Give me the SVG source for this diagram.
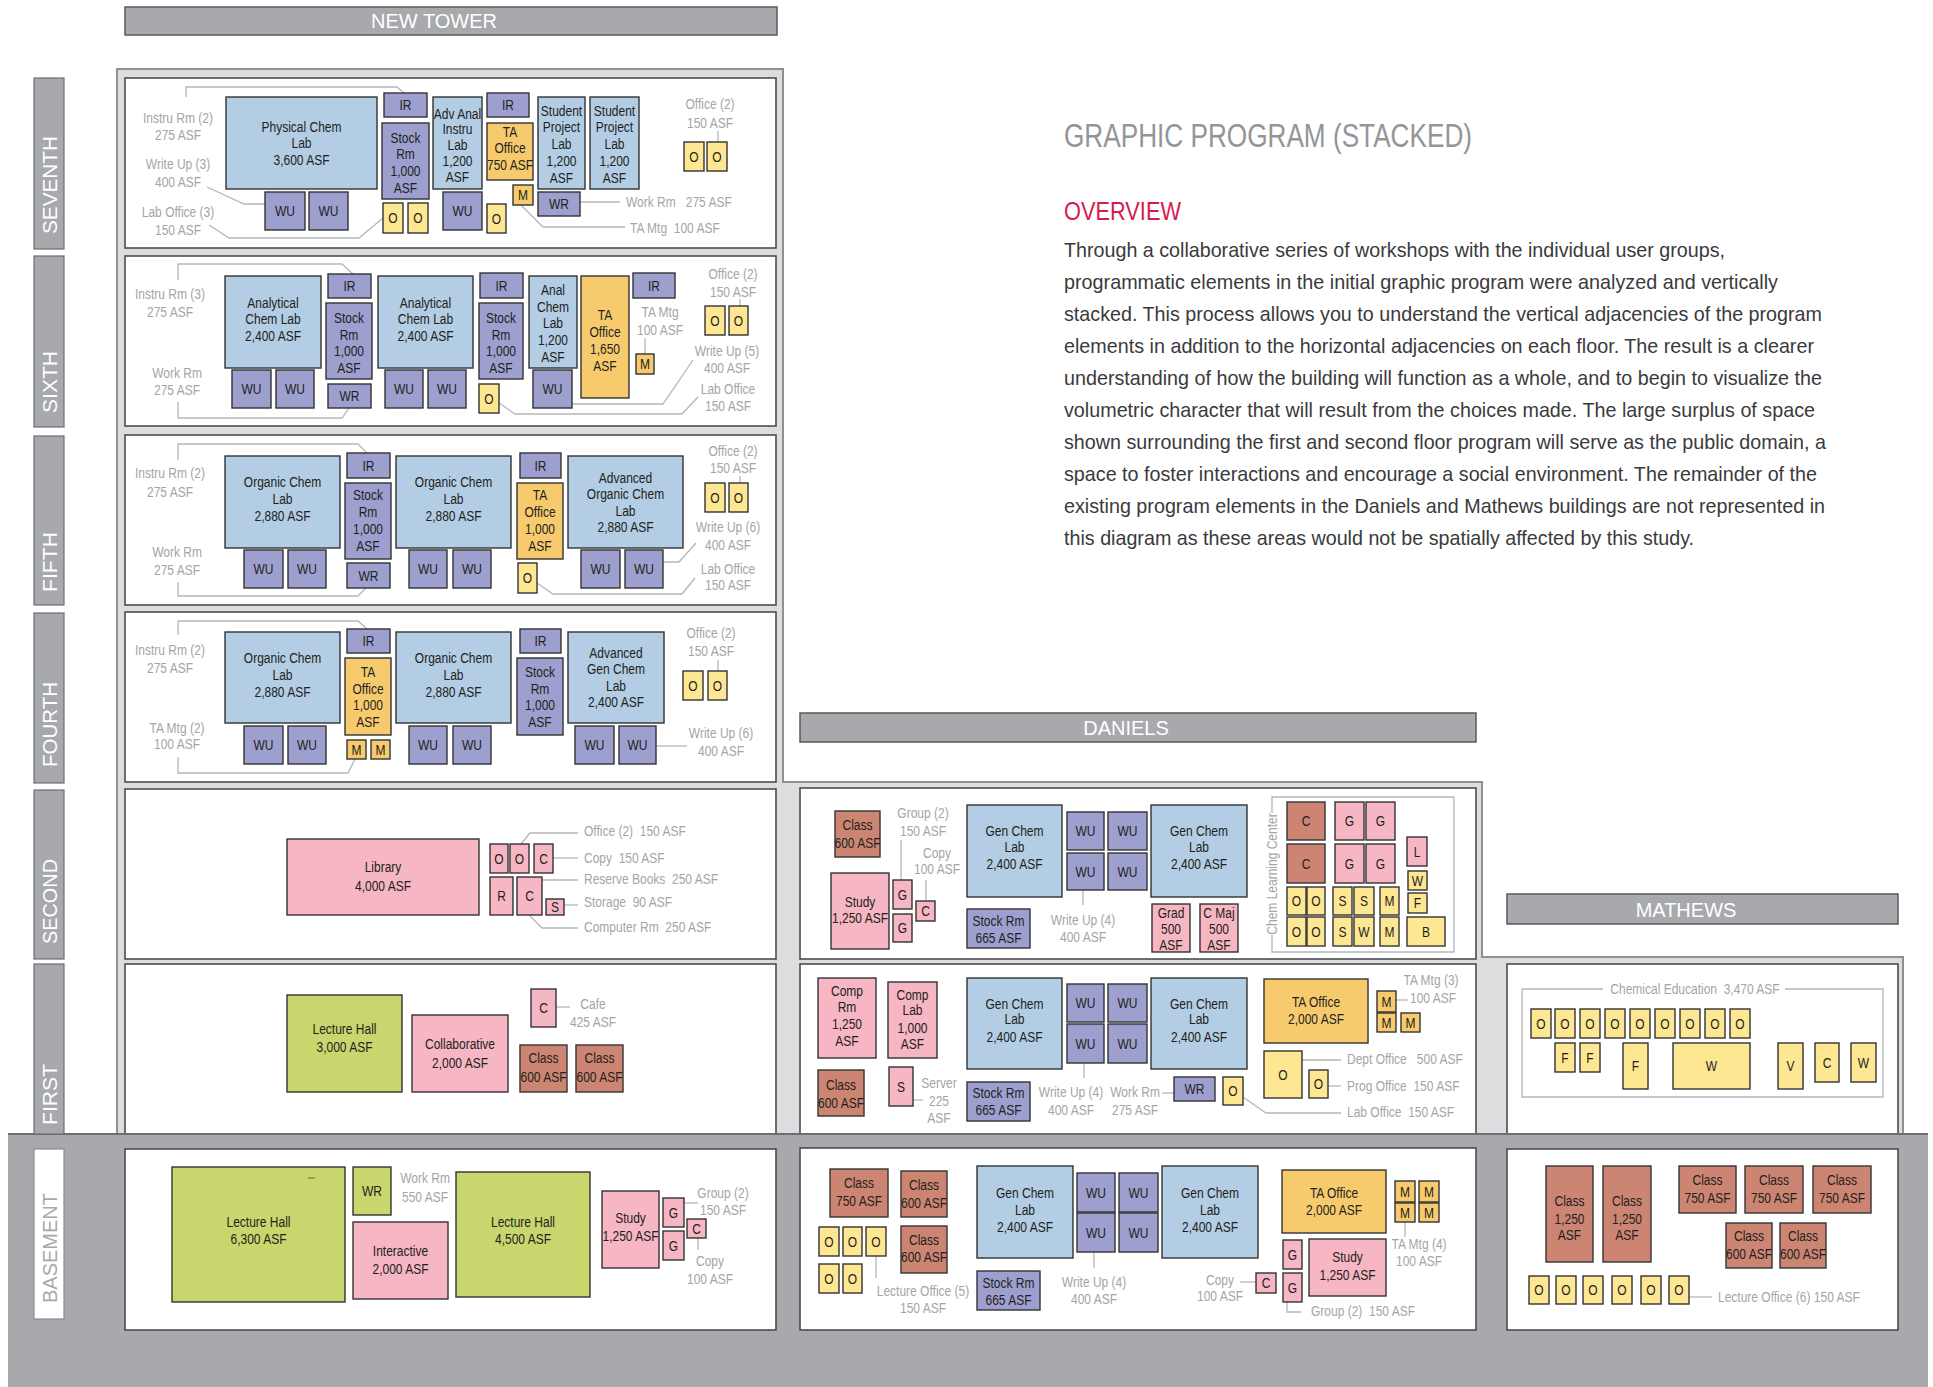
<svg xmlns="http://www.w3.org/2000/svg" width="1933" height="1387" viewBox="0 0 1933 1387">
<style>
.frame{fill:#dcddde;stroke:#8e9093;stroke-width:2}
.floor{fill:#fff;stroke:#4d4d4f;stroke-width:1.6}
.band{fill:#a7a9ac}
.hdr{fill:#a7a9ac;stroke:#58595b;stroke-width:1.5}
.hdrt{font-family:"Liberation Sans",Arial,sans-serif;font-size:20px;fill:#fff;text-anchor:middle}
.flab{fill:#a7a9ac;stroke:#6d6e71;stroke-width:1.2}
.flabt{font-family:"Liberation Sans",Arial,sans-serif;font-size:20px;fill:#fff}
.r{stroke:#333;stroke-width:1.4}
.lab{fill:#b2cde4}
.pu{fill:#9d9fcf}
.ta{fill:#f7cb6d}
.ye{fill:#fee793}
.pk{fill:#f7b6c3}
.br{fill:#cc8573}
.gr{fill:#c9d56d}
.t{font-family:"Liberation Sans",Arial,sans-serif;font-size:15px;fill:#231f20;text-anchor:middle}
.lb{font-family:"Liberation Sans",Arial,sans-serif;font-size:15px;fill:#a3a5a8;text-anchor:middle}
.ls{text-anchor:start}
.ln{fill:none;stroke:#b4b6b8;stroke-width:1.3}
.title{font-family:"Liberation Sans",Arial,sans-serif;font-size:33px;fill:#939598}
.ov{font-family:"Liberation Sans",Arial,sans-serif;font-size:26px;fill:#d71a4b}
.para{font-family:"Liberation Sans",Arial,sans-serif;font-size:21px;fill:#3a3a3c}
</style>

<!-- building outlines -->
<g id="structure">
  <rect width="1933" height="1387" fill="#fff"/>
  <polygon class="frame" points="117,69 783,69 783,782 1482,782 1482,957 1903,957 1903,1134 117,1134"/>
  <rect class="floor" x="125" y="78" width="651" height="170"/>
  <rect class="floor" x="125" y="256" width="651" height="170"/>
  <rect class="floor" x="125" y="435" width="651" height="170"/>
  <rect class="floor" x="125" y="612" width="651" height="170"/>
  <rect class="floor" x="125" y="789" width="651" height="170"/>
  <rect class="floor" x="125" y="964" width="651" height="172"/>
  <rect class="floor" x="800" y="788" width="676" height="171"/>
  <rect class="floor" x="800" y="964" width="676" height="172"/>
  <rect class="floor" x="1507" y="964" width="391" height="172"/>
  <rect class="band" x="8" y="1134" width="1920" height="253"/>
  <line x1="8" y1="1134" x2="1928" y2="1134" stroke="#6d6e71" stroke-width="2"/>
  <rect class="floor" x="125" y="1149" width="651" height="181"/>
  <rect class="floor" x="800" y="1148" width="676" height="182"/>
  <rect class="floor" x="1507" y="1149" width="391" height="181"/>
</g>

<!-- building headers -->
<g id="hdr-newtower"><rect class="hdr" x="125" y="7" width="652" height="28"/><text class="hdrt" x="434" y="28">NEW TOWER</text></g>
<g id="hdr-daniels"><rect class="hdr" x="800" y="713" width="676" height="29"/><text class="hdrt" x="1126" y="735">DANIELS</text></g>
<g id="hdr-mathews"><rect class="hdr" x="1507" y="894" width="391" height="30"/><text class="hdrt" x="1686" y="917">MATHEWS</text></g>

<!-- floor names -->
<g id="floor-names">
  <rect class="flab" x="34" y="78" width="30" height="171"/>
  <text class="flabt" transform="translate(57 234) rotate(-90)" textLength="98" lengthAdjust="spacingAndGlyphs">SEVENTH</text>
  <rect class="flab" x="34" y="256" width="30" height="171"/>
  <text class="flabt" transform="translate(57 413) rotate(-90)" textLength="62" lengthAdjust="spacingAndGlyphs">SIXTH</text>
  <rect class="flab" x="34" y="436" width="30" height="169"/>
  <text class="flabt" transform="translate(57 592) rotate(-90)" textLength="60" lengthAdjust="spacingAndGlyphs">FIFTH</text>
  <rect class="flab" x="34" y="613" width="30" height="170"/>
  <text class="flabt" transform="translate(57 767) rotate(-90)" textLength="85" lengthAdjust="spacingAndGlyphs">FOURTH</text>
  <rect class="flab" x="34" y="790" width="30" height="169"/>
  <text class="flabt" transform="translate(57 944) rotate(-90)" textLength="85" lengthAdjust="spacingAndGlyphs">SECOND</text>
  <rect class="flab" x="34" y="964" width="30" height="170"/>
  <text class="flabt" transform="translate(57 1125) rotate(-90)" textLength="61" lengthAdjust="spacingAndGlyphs">FIRST</text>
  <rect x="34" y="1149" width="30" height="170" fill="#fff" stroke="#8a8c8e" stroke-width="1.2"/>
  <text class="flabt" style="fill:#a7a9ac" transform="translate(57 1303) rotate(-90)" textLength="110" lengthAdjust="spacingAndGlyphs">BASEMENT</text>
</g>

<!-- leader lines -->
<g id="connectors">
  <path class="ln" d="M186,97 V87 H397 L404,93"/>
  <path class="ln" d="M207,187 L244,204 H265"/>
  <path class="ln" d="M209,225 L229,238 H359 L383,218"/>
  <path class="ln" d="M718,131 V142"/>
  <path class="ln" d="M580,202 H620"/>
  <path class="ln" d="M521,205 L543,227 H625"/>

  <path class="ln" d="M178,280 V264 H342 L353,274"/>
  <path class="ln" d="M178,402 V418 H342 L349,408"/>
  <path class="ln" d="M645,338 V354"/>
  <path class="ln" d="M740,299 V306"/>
  <path class="ln" d="M572,404 H663 L693,360"/>
  <path class="ln" d="M499,403 L515,414 H682 L698,397"/>

  <path class="ln" d="M178,460 V444 H358 L367,453"/>
  <path class="ln" d="M178,582 V596 H358 L366,588"/>
  <path class="ln" d="M740,476 V483"/>
  <path class="ln" d="M663,562 H679 L696,543"/>
  <path class="ln" d="M537,583 L553,594 H682 L695,578"/>

  <path class="ln" d="M178,635 V621 H358 L367,629"/>
  <path class="ln" d="M178,757 V773 H348 L355,759"/>
  <path class="ln" d="M718,660 V671"/>
  <path class="ln" d="M656,746 H687"/>

  <path class="ln" d="M521,844 L530,833 H578"/>
  <path class="ln" d="M553,858 H578"/>
  <path class="ln" d="M542,880 H578"/>
  <path class="ln" d="M564,905 H578"/>
  <path class="ln" d="M529,915 L542,928 H578"/>

  <path class="ln" d="M556,1007 H570"/>

  <path class="ln" d="M684,1203 H698"/>
  <path class="ln" d="M698,1238 V1250"/>

  <path class="ln" d="M901,840 V880"/>
  <path class="ln" d="M926,880 V901"/>
  <path class="ln" d="M1083,890 V905"/>
  <path class="ln" d="M1272,813 V797 H1454 V952 H1272 V935"/>

  <path class="ln" d="M913,1100 H923"/>
  <path class="ln" d="M1084,1063 V1078"/>
  <path class="ln" d="M1162,1093 H1174"/>
  <path class="ln" d="M1396,1000 H1408"/>
  <path class="ln" d="M1302,1060 H1341"/>
  <path class="ln" d="M1328,1086 H1341"/>
  <path class="ln" d="M1243,1097 L1266,1113 H1341"/>

  <path class="ln" d="M876,1256 V1278"/>
  <path class="ln" d="M1094,1252 V1268"/>
  <path class="ln" d="M1240,1282 H1256"/>
  <path class="ln" d="M1405,1222 V1237"/>
  <path class="ln" d="M1287,1302 V1312 H1301"/>

  <path class="ln" d="M1603,989 H1522 V1097 H1883 V989 H1785"/>
  <path class="ln" d="M1689,1297 H1712"/>
</g>

<!-- seventh floor -->
<g id="t7-physchem"><rect class="r lab" x="226" y="97" width="151" height="92"/><text class="t" transform="matrix(.8 0 0 1 301.5 131.8)"><tspan x="0">Physical Chem</tspan><tspan x="0" y="16.5">Lab</tspan><tspan x="0" y="33">3,600 ASF</tspan></text></g>
<g id="t7-ir1"><rect class="r pu" x="384" y="93" width="43" height="24"/><text class="t" transform="matrix(.8 0 0 1 405.5 110.3)">IR</text></g>
<g id="t7-stock"><rect class="r pu" x="382" y="123" width="47" height="76"/><text class="t" transform="matrix(.8 0 0 1 405.5 142.5)"><tspan x="0">Stock</tspan><tspan x="0" y="16.7">Rm</tspan><tspan x="0" y="33.4">1,000</tspan><tspan x="0" y="50.1">ASF</tspan></text></g>
<g id="t7-advanal"><rect class="r lab" x="433" y="97" width="49" height="92"/><text class="t" transform="matrix(.8 0 0 1 457.5 118.5)"><tspan x="0">Adv Anal</tspan><tspan x="0" y="16">Instru</tspan><tspan x="0" y="32">Lab</tspan><tspan x="0" y="48">1,200</tspan><tspan x="0" y="64">ASF</tspan></text></g>
<g id="t7-ir2"><rect class="r pu" x="487" y="93" width="42" height="24"/><text class="t" transform="matrix(.8 0 0 1 508 110.3)">IR</text></g>
<g id="t7-taoffice"><rect class="r ta" x="487" y="123" width="46" height="57"/><text class="t" transform="matrix(.8 0 0 1 510 137)"><tspan x="0">TA</tspan><tspan x="0" y="16.5">Office</tspan><tspan x="0" y="33">750 ASF</tspan></text></g>
<g id="t7-m"><rect class="r ta" x="513" y="185" width="20" height="20"/><text class="t" transform="matrix(.8 0 0 1 523 200.3)">M</text></g>
<g id="t7-spl1"><rect class="r lab" x="538" y="97" width="47" height="92"/><text class="t" transform="matrix(.8 0 0 1 561.5 115.5)"><tspan x="0">Student</tspan><tspan x="0" y="17">Project</tspan><tspan x="0" y="34">Lab</tspan><tspan x="0" y="51">1,200</tspan><tspan x="0" y="68">ASF</tspan></text></g>
<g id="t7-spl2"><rect class="r lab" x="590" y="97" width="49" height="92"/><text class="t" transform="matrix(.8 0 0 1 614.5 115.5)"><tspan x="0">Student</tspan><tspan x="0" y="17">Project</tspan><tspan x="0" y="34">Lab</tspan><tspan x="0" y="51">1,200</tspan><tspan x="0" y="68">ASF</tspan></text></g>
<g id="t7-wr"><rect class="r pu" x="538" y="192" width="42" height="24"/><text class="t" transform="matrix(.8 0 0 1 559 209.3)">WR</text></g>
<g id="t7-o1"><rect class="r ye" x="684" y="142" width="20" height="29"/><text class="t" transform="matrix(.8 0 0 1 694 161.8)">O</text></g>
<g id="t7-o2"><rect class="r ye" x="707" y="142" width="20" height="29"/><text class="t" transform="matrix(.8 0 0 1 717 161.8)">O</text></g>
<g id="t7-wu1"><rect class="r pu" x="265" y="192" width="40" height="38"/><text class="t" transform="matrix(.8 0 0 1 285 216.3)">WU</text></g>
<g id="t7-wu2"><rect class="r pu" x="309" y="192" width="39" height="38"/><text class="t" transform="matrix(.8 0 0 1 328.5 216.3)">WU</text></g>
<g id="t7-o3"><rect class="r ye" x="383" y="203" width="20" height="30"/><text class="t" transform="matrix(.8 0 0 1 393 223.3)">O</text></g>
<g id="t7-o4"><rect class="r ye" x="408" y="203" width="20" height="30"/><text class="t" transform="matrix(.8 0 0 1 418 223.3)">O</text></g>
<g id="t7-wu3"><rect class="r pu" x="443" y="192" width="39" height="38"/><text class="t" transform="matrix(.8 0 0 1 462.5 216.3)">WU</text></g>
<g id="t7-o5"><rect class="r ye" x="487" y="204" width="19" height="29"/><text class="t" transform="matrix(.8 0 0 1 496.5 223.8)">O</text></g>
<g id="t7-labels">
  <text class="lb" transform="matrix(.8 0 0 1 178 123)"><tspan x="0">Instru Rm (2)</tspan><tspan x="0" y="17">275 ASF</tspan></text>
  <text class="lb" transform="matrix(.8 0 0 1 178 169)"><tspan x="0">Write Up (3)</tspan><tspan x="0" y="18">400 ASF</tspan></text>
  <text class="lb" transform="matrix(.8 0 0 1 178 217)"><tspan x="0">Lab Office (3)</tspan><tspan x="0" y="18">150 ASF</tspan></text>
  <text class="lb" transform="matrix(.8 0 0 1 710 109)"><tspan x="0">Office (2)</tspan><tspan x="0" y="19">150 ASF</tspan></text>
  <text class="lb ls" xml:space="preserve" transform="matrix(.8 0 0 1 626 207)">Work Rm   275 ASF</text>
  <text class="lb ls" xml:space="preserve" transform="matrix(.8 0 0 1 630 233)">TA Mtg  100 ASF</text>
</g>

<!-- sixth floor -->
<g id="t6-anal1"><rect class="r lab" x="225" y="276" width="96" height="92"/><text class="t" transform="matrix(.8 0 0 1 273 308)"><tspan x="0">Analytical</tspan><tspan x="0" y="16.5">Chem Lab</tspan><tspan x="0" y="33">2,400 ASF</tspan></text></g>
<g id="t6-ir1"><rect class="r pu" x="328" y="274" width="43" height="24"/><text class="t" transform="matrix(.8 0 0 1 349.5 291.3)">IR</text></g>
<g id="t6-stock1"><rect class="r pu" x="326" y="303" width="46" height="76"/><text class="t" transform="matrix(.8 0 0 1 349 323)"><tspan x="0">Stock</tspan><tspan x="0" y="16.7">Rm</tspan><tspan x="0" y="33.4">1,000</tspan><tspan x="0" y="50.1">ASF</tspan></text></g>
<g id="t6-wr"><rect class="r pu" x="328" y="384" width="43" height="24"/><text class="t" transform="matrix(.8 0 0 1 349.5 401.3)">WR</text></g>
<g id="t6-wu1"><rect class="r pu" x="232" y="370" width="39" height="38"/><text class="t" transform="matrix(.8 0 0 1 251.5 394.3)">WU</text></g>
<g id="t6-wu2"><rect class="r pu" x="276" y="370" width="38" height="38"/><text class="t" transform="matrix(.8 0 0 1 295 394.3)">WU</text></g>
<g id="t6-anal2"><rect class="r lab" x="378" y="276" width="95" height="92"/><text class="t" transform="matrix(.8 0 0 1 425.5 308)"><tspan x="0">Analytical</tspan><tspan x="0" y="16.5">Chem Lab</tspan><tspan x="0" y="33">2,400 ASF</tspan></text></g>
<g id="t6-wu3"><rect class="r pu" x="385" y="370" width="38" height="38"/><text class="t" transform="matrix(.8 0 0 1 404 394.3)">WU</text></g>
<g id="t6-wu4"><rect class="r pu" x="428" y="370" width="38" height="38"/><text class="t" transform="matrix(.8 0 0 1 447 394.3)">WU</text></g>
<g id="t6-ir2"><rect class="r pu" x="480" y="273" width="43" height="25"/><text class="t" transform="matrix(.8 0 0 1 501.5 290.8)">IR</text></g>
<g id="t6-stock2"><rect class="r pu" x="479" y="303" width="44" height="76"/><text class="t" transform="matrix(.8 0 0 1 501 323)"><tspan x="0">Stock</tspan><tspan x="0" y="16.7">Rm</tspan><tspan x="0" y="33.4">1,000</tspan><tspan x="0" y="50.1">ASF</tspan></text></g>
<g id="t6-o1"><rect class="r ye" x="479" y="384" width="20" height="29"/><text class="t" transform="matrix(.8 0 0 1 489 403.8)">O</text></g>
<g id="t6-analchem"><rect class="r lab" x="529" y="276" width="48" height="92"/><text class="t" transform="matrix(.8 0 0 1 553 295)"><tspan x="0">Anal</tspan><tspan x="0" y="16.7">Chem</tspan><tspan x="0" y="33.4">Lab</tspan><tspan x="0" y="50.1">1,200</tspan><tspan x="0" y="66.8">ASF</tspan></text></g>
<g id="t6-wu5"><rect class="r pu" x="533" y="370" width="39" height="38"/><text class="t" transform="matrix(.8 0 0 1 552.5 394.3)">WU</text></g>
<g id="t6-taoffice"><rect class="r ta" x="581" y="276" width="48" height="122"/><text class="t" transform="matrix(.8 0 0 1 605 320)"><tspan x="0">TA</tspan><tspan x="0" y="17">Office</tspan><tspan x="0" y="34">1,650</tspan><tspan x="0" y="51">ASF</tspan></text></g>
<g id="t6-ir3"><rect class="r pu" x="633" y="273" width="42" height="25"/><text class="t" transform="matrix(.8 0 0 1 654 290.8)">IR</text></g>
<g id="t6-m"><rect class="r ta" x="636" y="354" width="18" height="20"/><text class="t" transform="matrix(.8 0 0 1 645 369.3)">M</text></g>
<g id="t6-o2"><rect class="r ye" x="705" y="306" width="20" height="29"/><text class="t" transform="matrix(.8 0 0 1 715 325.8)">O</text></g>
<g id="t6-o3"><rect class="r ye" x="729" y="306" width="19" height="29"/><text class="t" transform="matrix(.8 0 0 1 738.5 325.8)">O</text></g>
<g id="t6-labels">
  <text class="lb" transform="matrix(.8 0 0 1 170 299)"><tspan x="0">Instru Rm (3)</tspan><tspan x="0" y="18">275 ASF</tspan></text>
  <text class="lb" transform="matrix(.8 0 0 1 177 378)"><tspan x="0">Work Rm</tspan><tspan x="0" y="17">275 ASF</tspan></text>
  <text class="lb" transform="matrix(.8 0 0 1 660 317)"><tspan x="0">TA Mtg</tspan><tspan x="0" y="18">100 ASF</tspan></text>
  <text class="lb" transform="matrix(.8 0 0 1 733 279)"><tspan x="0">Office (2)</tspan><tspan x="0" y="18">150 ASF</tspan></text>
  <text class="lb" transform="matrix(.8 0 0 1 727 356)"><tspan x="0">Write Up (5)</tspan><tspan x="0" y="17">400 ASF</tspan></text>
  <text class="lb" transform="matrix(.8 0 0 1 728 394)"><tspan x="0">Lab Office</tspan><tspan x="0" y="17">150 ASF</tspan></text>
</g>

<!-- fifth floor -->
<g id="t5-org1"><rect class="r lab" x="225" y="456" width="115" height="92"/><text class="t" transform="matrix(.8 0 0 1 282.5 487)"><tspan x="0">Organic Chem</tspan><tspan x="0" y="17">Lab</tspan><tspan x="0" y="34">2,880 ASF</tspan></text></g>
<g id="t5-wu1"><rect class="r pu" x="244" y="550" width="39" height="38"/><text class="t" transform="matrix(.8 0 0 1 263.5 574.3)">WU</text></g>
<g id="t5-wu2"><rect class="r pu" x="288" y="550" width="38" height="38"/><text class="t" transform="matrix(.8 0 0 1 307 574.3)">WU</text></g>
<g id="t5-ir1"><rect class="r pu" x="347" y="453" width="43" height="25"/><text class="t" transform="matrix(.8 0 0 1 368.5 470.8)">IR</text></g>
<g id="t5-stock"><rect class="r pu" x="345" y="483" width="46" height="76"/><text class="t" transform="matrix(.8 0 0 1 368 500)"><tspan x="0">Stock</tspan><tspan x="0" y="17">Rm</tspan><tspan x="0" y="34">1,000</tspan><tspan x="0" y="51">ASF</tspan></text></g>
<g id="t5-wr"><rect class="r pu" x="347" y="563" width="43" height="25"/><text class="t" transform="matrix(.8 0 0 1 368.5 580.8)">WR</text></g>
<g id="t5-org2"><rect class="r lab" x="396" y="456" width="115" height="92"/><text class="t" transform="matrix(.8 0 0 1 453.5 487)"><tspan x="0">Organic Chem</tspan><tspan x="0" y="17">Lab</tspan><tspan x="0" y="34">2,880 ASF</tspan></text></g>
<g id="t5-wu3"><rect class="r pu" x="409" y="550" width="38" height="38"/><text class="t" transform="matrix(.8 0 0 1 428 574.3)">WU</text></g>
<g id="t5-wu4"><rect class="r pu" x="453" y="550" width="38" height="38"/><text class="t" transform="matrix(.8 0 0 1 472 574.3)">WU</text></g>
<g id="t5-ir2"><rect class="r pu" x="520" y="453" width="41" height="25"/><text class="t" transform="matrix(.8 0 0 1 540.5 470.8)">IR</text></g>
<g id="t5-taoffice"><rect class="r ta" x="517" y="483" width="46" height="76"/><text class="t" transform="matrix(.8 0 0 1 540 500)"><tspan x="0">TA</tspan><tspan x="0" y="17">Office</tspan><tspan x="0" y="34">1,000</tspan><tspan x="0" y="51">ASF</tspan></text></g>
<g id="t5-o1"><rect class="r ye" x="518" y="563" width="19" height="30"/><text class="t" transform="matrix(.8 0 0 1 527.5 583.3)">O</text></g>
<g id="t5-advorg"><rect class="r lab" x="568" y="456" width="115" height="92"/><text class="t" transform="matrix(.8 0 0 1 625.5 483)"><tspan x="0">Advanced</tspan><tspan x="0" y="16.3">Organic Chem</tspan><tspan x="0" y="32.6">Lab</tspan><tspan x="0" y="48.9">2,880 ASF</tspan></text></g>
<g id="t5-wu5"><rect class="r pu" x="581" y="550" width="39" height="38"/><text class="t" transform="matrix(.8 0 0 1 600.5 574.3)">WU</text></g>
<g id="t5-wu6"><rect class="r pu" x="625" y="550" width="38" height="38"/><text class="t" transform="matrix(.8 0 0 1 644 574.3)">WU</text></g>
<g id="t5-o2"><rect class="r ye" x="705" y="483" width="20" height="29"/><text class="t" transform="matrix(.8 0 0 1 715 502.8)">O</text></g>
<g id="t5-o3"><rect class="r ye" x="729" y="483" width="19" height="29"/><text class="t" transform="matrix(.8 0 0 1 738.5 502.8)">O</text></g>
<g id="t5-labels">
  <text class="lb" transform="matrix(.8 0 0 1 170 478)"><tspan x="0">Instru Rm (2)</tspan><tspan x="0" y="19">275 ASF</tspan></text>
  <text class="lb" transform="matrix(.8 0 0 1 177 557)"><tspan x="0">Work Rm</tspan><tspan x="0" y="18">275 ASF</tspan></text>
  <text class="lb" transform="matrix(.8 0 0 1 733 456)"><tspan x="0">Office (2)</tspan><tspan x="0" y="17">150 ASF</tspan></text>
  <text class="lb" transform="matrix(.8 0 0 1 728 532)"><tspan x="0">Write Up (6)</tspan><tspan x="0" y="18">400 ASF</tspan></text>
  <text class="lb" transform="matrix(.8 0 0 1 728 574)"><tspan x="0">Lab Office</tspan><tspan x="0" y="16">150 ASF</tspan></text>
</g>

<!-- fourth floor -->
<g id="t4-org1"><rect class="r lab" x="225" y="632" width="115" height="91"/><text class="t" transform="matrix(.8 0 0 1 282.5 663)"><tspan x="0">Organic Chem</tspan><tspan x="0" y="17">Lab</tspan><tspan x="0" y="34">2,880 ASF</tspan></text></g>
<g id="t4-wu1"><rect class="r pu" x="244" y="726" width="39" height="38"/><text class="t" transform="matrix(.8 0 0 1 263.5 750.3)">WU</text></g>
<g id="t4-wu2"><rect class="r pu" x="288" y="726" width="38" height="38"/><text class="t" transform="matrix(.8 0 0 1 307 750.3)">WU</text></g>
<g id="t4-ir1"><rect class="r pu" x="347" y="629" width="43" height="24"/><text class="t" transform="matrix(.8 0 0 1 368.5 646.3)">IR</text></g>
<g id="t4-taoffice"><rect class="r ta" x="345" y="658" width="46" height="77"/><text class="t" transform="matrix(.8 0 0 1 368 677)"><tspan x="0">TA</tspan><tspan x="0" y="16.7">Office</tspan><tspan x="0" y="33.4">1,000</tspan><tspan x="0" y="50.1">ASF</tspan></text></g>
<g id="t4-m1"><rect class="r ta" x="347" y="740" width="19" height="19"/><text class="t" transform="matrix(.8 0 0 1 356.5 754.8)">M</text></g>
<g id="t4-m2"><rect class="r ta" x="371" y="740" width="19" height="19"/><text class="t" transform="matrix(.8 0 0 1 380.5 754.8)">M</text></g>
<g id="t4-org2"><rect class="r lab" x="396" y="632" width="115" height="91"/><text class="t" transform="matrix(.8 0 0 1 453.5 663)"><tspan x="0">Organic Chem</tspan><tspan x="0" y="17">Lab</tspan><tspan x="0" y="34">2,880 ASF</tspan></text></g>
<g id="t4-wu3"><rect class="r pu" x="409" y="726" width="38" height="38"/><text class="t" transform="matrix(.8 0 0 1 428 750.3)">WU</text></g>
<g id="t4-wu4"><rect class="r pu" x="453" y="726" width="38" height="38"/><text class="t" transform="matrix(.8 0 0 1 472 750.3)">WU</text></g>
<g id="t4-ir2"><rect class="r pu" x="520" y="629" width="41" height="24"/><text class="t" transform="matrix(.8 0 0 1 540.5 646.3)">IR</text></g>
<g id="t4-stock"><rect class="r pu" x="517" y="658" width="46" height="77"/><text class="t" transform="matrix(.8 0 0 1 540 677)"><tspan x="0">Stock</tspan><tspan x="0" y="16.7">Rm</tspan><tspan x="0" y="33.4">1,000</tspan><tspan x="0" y="50.1">ASF</tspan></text></g>
<g id="t4-advgen"><rect class="r lab" x="568" y="632" width="96" height="91"/><text class="t" transform="matrix(.8 0 0 1 616 658)"><tspan x="0">Advanced</tspan><tspan x="0" y="16.3">Gen Chem</tspan><tspan x="0" y="32.6">Lab</tspan><tspan x="0" y="48.9">2,400 ASF</tspan></text></g>
<g id="t4-wu5"><rect class="r pu" x="575" y="726" width="39" height="38"/><text class="t" transform="matrix(.8 0 0 1 594.5 750.3)">WU</text></g>
<g id="t4-wu6"><rect class="r pu" x="619" y="726" width="37" height="38"/><text class="t" transform="matrix(.8 0 0 1 637.5 750.3)">WU</text></g>
<g id="t4-o1"><rect class="r ye" x="683" y="671" width="20" height="29"/><text class="t" transform="matrix(.8 0 0 1 693 690.8)">O</text></g>
<g id="t4-o2"><rect class="r ye" x="708" y="671" width="19" height="29"/><text class="t" transform="matrix(.8 0 0 1 717.5 690.8)">O</text></g>
<g id="t4-labels">
  <text class="lb" transform="matrix(.8 0 0 1 170 655)"><tspan x="0">Instru Rm (2)</tspan><tspan x="0" y="18">275 ASF</tspan></text>
  <text class="lb" transform="matrix(.8 0 0 1 177 733)"><tspan x="0">TA Mtg (2)</tspan><tspan x="0" y="16">100 ASF</tspan></text>
  <text class="lb" transform="matrix(.8 0 0 1 711 638)"><tspan x="0">Office (2)</tspan><tspan x="0" y="18">150 ASF</tspan></text>
  <text class="lb" transform="matrix(.8 0 0 1 721 738)"><tspan x="0">Write Up (6)</tspan><tspan x="0" y="18">400 ASF</tspan></text>
</g>

<!-- second floor, new tower -->
<g id="t2-library"><rect class="r pk" x="287" y="839" width="192" height="76"/><text class="t" transform="matrix(.8 0 0 1 383 872)"><tspan x="0">Library</tspan><tspan x="0" y="19">4,000 ASF</tspan></text></g>
<g id="t2-o1"><rect class="r pk" x="490" y="844" width="18" height="29"/><text class="t" transform="matrix(.8 0 0 1 499 863.8)">O</text></g>
<g id="t2-o2"><rect class="r pk" x="510" y="844" width="19" height="29"/><text class="t" transform="matrix(.8 0 0 1 519.5 863.8)">O</text></g>
<g id="t2-copy"><rect class="r pk" x="534" y="844" width="19" height="29"/><text class="t" transform="matrix(.8 0 0 1 543.5 863.8)">C</text></g>
<g id="t2-reserve"><rect class="r pk" x="490" y="877" width="23" height="38"/><text class="t" transform="matrix(.8 0 0 1 501.5 901.3)">R</text></g>
<g id="t2-comp"><rect class="r pk" x="517" y="877" width="25" height="38"/><text class="t" transform="matrix(.8 0 0 1 529.5 901.3)">C</text></g>
<g id="t2-storage"><rect class="r pk" x="546" y="899" width="18" height="16"/><text class="t" transform="matrix(.8 0 0 1 555 912.3)">S</text></g>
<g id="t2-labels">
  <text class="lb ls" xml:space="preserve" transform="matrix(.8 0 0 1 584 836)">Office (2)  150 ASF</text>
  <text class="lb ls" xml:space="preserve" transform="matrix(.8 0 0 1 584 863)">Copy  150 ASF</text>
  <text class="lb ls" xml:space="preserve" transform="matrix(.8 0 0 1 584 884)">Reserve Books  250 ASF</text>
  <text class="lb ls" xml:space="preserve" transform="matrix(.8 0 0 1 584 907)">Storage  90 ASF</text>
  <text class="lb ls" xml:space="preserve" transform="matrix(.8 0 0 1 584 932)">Computer Rm  250 ASF</text>
</g>

<!-- first floor, new tower -->
<g id="t1-lecture"><rect class="r gr" x="287" y="995" width="115" height="97"/><text class="t" transform="matrix(.8 0 0 1 344.5 1034)"><tspan x="0">Lecture Hall</tspan><tspan x="0" y="18">3,000 ASF</tspan></text></g>
<g id="t1-collab"><rect class="r pk" x="412" y="1015" width="96" height="77"/><text class="t" transform="matrix(.8 0 0 1 460 1049)"><tspan x="0">Collaborative</tspan><tspan x="0" y="19">2,000 ASF</tspan></text></g>
<g id="t1-cafe"><rect class="r pk" x="531" y="989" width="25" height="38"/><text class="t" transform="matrix(.8 0 0 1 543.5 1013.3)">C</text></g>
<g id="t1-class1"><rect class="r br" x="520" y="1045" width="47" height="47"/><text class="t" transform="matrix(.8 0 0 1 543.5 1063)"><tspan x="0">Class</tspan><tspan x="0" y="19">600 ASF</tspan></text></g>
<g id="t1-class2"><rect class="r br" x="576" y="1045" width="47" height="47"/><text class="t" transform="matrix(.8 0 0 1 599.5 1063)"><tspan x="0">Class</tspan><tspan x="0" y="19">600 ASF</tspan></text></g>
<g id="t1-labels">
  <text class="lb" transform="matrix(.8 0 0 1 593 1009)"><tspan x="0">Cafe</tspan><tspan x="0" y="18">425 ASF</tspan></text>
</g>

<!-- basement, new tower -->
<g id="tb-lecture1"><rect class="r gr" x="172" y="1167" width="173" height="135"/><line x1="308" y1="1178" x2="315" y2="1178" stroke="#666" stroke-width="1"/><text class="t" transform="matrix(.8 0 0 1 258.5 1227)"><tspan x="0">Lecture Hall</tspan><tspan x="0" y="17">6,300 ASF</tspan></text></g>
<g id="tb-wr"><rect class="r gr" x="353" y="1167" width="38" height="48"/><text class="t" transform="matrix(.8 0 0 1 372 1196.3)">WR</text></g>
<g id="tb-interactive"><rect class="r pk" x="353" y="1222" width="95" height="77"/><text class="t" transform="matrix(.8 0 0 1 400.5 1256)"><tspan x="0">Interactive</tspan><tspan x="0" y="18">2,000 ASF</tspan></text></g>
<g id="tb-lecture2"><rect class="r gr" x="456" y="1172" width="134" height="125"/><text class="t" transform="matrix(.8 0 0 1 523 1227)"><tspan x="0">Lecture Hall</tspan><tspan x="0" y="17">4,500 ASF</tspan></text></g>
<g id="tb-study"><rect class="r pk" x="602" y="1191" width="57" height="77"/><text class="t" transform="matrix(.8 0 0 1 630.5 1223)"><tspan x="0">Study</tspan><tspan x="0" y="18">1,250 ASF</tspan></text></g>
<g id="tb-g1"><rect class="r pk" x="663" y="1198" width="21" height="29"/><text class="t" transform="matrix(.8 0 0 1 673.5 1217.8)">G</text></g>
<g id="tb-g2"><rect class="r pk" x="663" y="1231" width="21" height="29"/><text class="t" transform="matrix(.8 0 0 1 673.5 1250.8)">G</text></g>
<g id="tb-c"><rect class="r pk" x="687" y="1219" width="19" height="19"/><text class="t" transform="matrix(.8 0 0 1 696.5 1233.8)">C</text></g>
<g id="tb-labels">
  <text class="lb" transform="matrix(.8 0 0 1 425 1183)"><tspan x="0">Work Rm</tspan><tspan x="0" y="19">550 ASF</tspan></text>
  <text class="lb" transform="matrix(.8 0 0 1 723 1198)"><tspan x="0">Group (2)</tspan><tspan x="0" y="17">150 ASF</tspan></text>
  <text class="lb" transform="matrix(.8 0 0 1 710 1266)"><tspan x="0">Copy</tspan><tspan x="0" y="18">100 ASF</tspan></text>
</g>

<!-- Daniels second floor -->
<g id="d2-class"><rect class="r br" x="835" y="811" width="45" height="46"/><text class="t" transform="matrix(.8 0 0 1 857.5 830)"><tspan x="0">Class</tspan><tspan x="0" y="18">600 ASF</tspan></text></g>
<g id="d2-study"><rect class="r pk" x="831" y="873" width="58" height="76"/><text class="t" transform="matrix(.8 0 0 1 860 907)"><tspan x="0">Study</tspan><tspan x="0" y="16">1,250 ASF</tspan></text></g>
<g id="d2-g1"><rect class="r pk" x="893" y="880" width="19" height="29"/><text class="t" transform="matrix(.8 0 0 1 902.5 899.8)">G</text></g>
<g id="d2-g2"><rect class="r pk" x="893" y="914" width="19" height="28"/><text class="t" transform="matrix(.8 0 0 1 902.5 933.3)">G</text></g>
<g id="d2-c"><rect class="r pk" x="916" y="901" width="19" height="20"/><text class="t" transform="matrix(.8 0 0 1 925.5 916.3)">C</text></g>
<g id="d2-gen1"><rect class="r lab" x="967" y="805" width="95" height="92"/><text class="t" transform="matrix(.8 0 0 1 1014.5 836)"><tspan x="0">Gen Chem</tspan><tspan x="0" y="16.5">Lab</tspan><tspan x="0" y="33">2,400 ASF</tspan></text></g>
<g id="d2-stock"><rect class="r pu" x="967" y="909" width="63" height="39"/><text class="t" transform="matrix(.8 0 0 1 998.5 926)"><tspan x="0">Stock Rm</tspan><tspan x="0" y="17">665 ASF</tspan></text></g>
<g id="d2-wu1"><rect class="r pu" x="1067" y="812" width="37" height="38"/><text class="t" transform="matrix(.8 0 0 1 1085.5 836.3)">WU</text></g>
<g id="d2-wu2"><rect class="r pu" x="1108" y="812" width="39" height="38"/><text class="t" transform="matrix(.8 0 0 1 1127.5 836.3)">WU</text></g>
<g id="d2-wu3"><rect class="r pu" x="1067" y="853" width="37" height="37"/><text class="t" transform="matrix(.8 0 0 1 1085.5 876.8)">WU</text></g>
<g id="d2-wu4"><rect class="r pu" x="1108" y="853" width="39" height="37"/><text class="t" transform="matrix(.8 0 0 1 1127.5 876.8)">WU</text></g>
<g id="d2-gen2"><rect class="r lab" x="1151" y="805" width="96" height="92"/><text class="t" transform="matrix(.8 0 0 1 1199 836)"><tspan x="0">Gen Chem</tspan><tspan x="0" y="16.5">Lab</tspan><tspan x="0" y="33">2,400 ASF</tspan></text></g>
<g id="d2-grad"><rect class="r pk" x="1152" y="904" width="38" height="48"/><text class="t" transform="matrix(.8 0 0 1 1171 918)"><tspan x="0">Grad</tspan><tspan x="0" y="16">500</tspan><tspan x="0" y="32">ASF</tspan></text></g>
<g id="d2-cmaj"><rect class="r pk" x="1200" y="904" width="38" height="48"/><text class="t" transform="matrix(.8 0 0 1 1219 918)"><tspan x="0">C Maj</tspan><tspan x="0" y="16">500</tspan><tspan x="0" y="32">ASF</tspan></text></g>
<g id="d2-clc">
  <text class="lb" transform="matrix(0 -.8 1 0 1277 874)">Chem Learning Center</text>
  <g id="d2-c1"><rect class="r br" x="1287" y="802" width="38" height="38"/><text class="t" transform="matrix(.8 0 0 1 1306 826.3)">C</text></g>
  <g id="d2-c2"><rect class="r br" x="1287" y="844" width="38" height="39"/><text class="t" transform="matrix(.8 0 0 1 1306 868.8)">C</text></g>
  <g id="d2-g3"><rect class="r pk" x="1335" y="802" width="29" height="38"/><text class="t" transform="matrix(.8 0 0 1 1349.5 826.3)">G</text></g>
  <g id="d2-g4"><rect class="r pk" x="1366" y="802" width="29" height="38"/><text class="t" transform="matrix(.8 0 0 1 1380.5 826.3)">G</text></g>
  <g id="d2-g5"><rect class="r pk" x="1335" y="844" width="29" height="39"/><text class="t" transform="matrix(.8 0 0 1 1349.5 868.8)">G</text></g>
  <g id="d2-g6"><rect class="r pk" x="1366" y="844" width="29" height="39"/><text class="t" transform="matrix(.8 0 0 1 1380.5 868.8)">G</text></g>
  <g id="d2-l"><rect class="r pk" x="1407" y="837" width="20" height="29"/><text class="t" transform="matrix(.8 0 0 1 1417 856.8)">L</text></g>
  <g id="d2-w1"><rect class="r ye" x="1408" y="871" width="19" height="19"/><text class="t" transform="matrix(.8 0 0 1 1417.5 885.8)">W</text></g>
  <g id="d2-f"><rect class="r ye" x="1408" y="893" width="19" height="20"/><text class="t" transform="matrix(.8 0 0 1 1417.5 908.3)">F</text></g>
  <g id="d2-b"><rect class="r ye" x="1407" y="917" width="38" height="29"/><text class="t" transform="matrix(.8 0 0 1 1426 936.8)">B</text></g>
  <g id="d2-o1"><rect class="r ye" x="1287" y="887" width="19" height="28"/><text class="t" transform="matrix(.8 0 0 1 1296.5 906.3)">O</text></g>
  <g id="d2-o2"><rect class="r ye" x="1307" y="887" width="18" height="28"/><text class="t" transform="matrix(.8 0 0 1 1316 906.3)">O</text></g>
  <g id="d2-o3"><rect class="r ye" x="1287" y="917" width="19" height="29"/><text class="t" transform="matrix(.8 0 0 1 1296.5 936.8)">O</text></g>
  <g id="d2-o4"><rect class="r ye" x="1307" y="917" width="18" height="29"/><text class="t" transform="matrix(.8 0 0 1 1316 936.8)">O</text></g>
  <g id="d2-s1"><rect class="r ye" x="1333" y="887" width="19" height="28"/><text class="t" transform="matrix(.8 0 0 1 1342.5 906.3)">S</text></g>
  <g id="d2-s2"><rect class="r ye" x="1354" y="887" width="20" height="28"/><text class="t" transform="matrix(.8 0 0 1 1364 906.3)">S</text></g>
  <g id="d2-s3"><rect class="r ye" x="1333" y="917" width="19" height="29"/><text class="t" transform="matrix(.8 0 0 1 1342.5 936.8)">S</text></g>
  <g id="d2-w2"><rect class="r ye" x="1354" y="917" width="20" height="29"/><text class="t" transform="matrix(.8 0 0 1 1364 936.8)">W</text></g>
  <g id="d2-m1"><rect class="r ye" x="1380" y="887" width="19" height="28"/><text class="t" transform="matrix(.8 0 0 1 1389.5 906.3)">M</text></g>
  <g id="d2-m2"><rect class="r ye" x="1380" y="917" width="19" height="29"/><text class="t" transform="matrix(.8 0 0 1 1389.5 936.8)">M</text></g>
</g>
<g id="d2-labels">
  <text class="lb" transform="matrix(.8 0 0 1 923 818)"><tspan x="0">Group (2)</tspan><tspan x="0" y="18">150 ASF</tspan></text>
  <text class="lb" transform="matrix(.8 0 0 1 937 858)"><tspan x="0">Copy</tspan><tspan x="0" y="16">100 ASF</tspan></text>
  <text class="lb" transform="matrix(.8 0 0 1 1083 925)"><tspan x="0">Write Up (4)</tspan><tspan x="0" y="17">400 ASF</tspan></text>
</g>

<!-- Daniels first floor -->
<g id="d1-comprm"><rect class="r pk" x="818" y="978" width="58" height="80"/><text class="t" transform="matrix(.8 0 0 1 847 996)"><tspan x="0">Comp</tspan><tspan x="0" y="16.5">Rm</tspan><tspan x="0" y="33.5">1,250</tspan><tspan x="0" y="50.5">ASF</tspan></text></g>
<g id="d1-complab"><rect class="r pk" x="888" y="982" width="49" height="76"/><text class="t" transform="matrix(.8 0 0 1 912.5 1000)"><tspan x="0">Comp</tspan><tspan x="0" y="15.5">Lab</tspan><tspan x="0" y="33">1,000</tspan><tspan x="0" y="49">ASF</tspan></text></g>
<g id="d1-class"><rect class="r br" x="818" y="1070" width="46" height="46"/><text class="t" transform="matrix(.8 0 0 1 841 1090)"><tspan x="0">Class</tspan><tspan x="0" y="18">600 ASF</tspan></text></g>
<g id="d1-server"><rect class="r pk" x="889" y="1067" width="24" height="39"/><text class="t" transform="matrix(.8 0 0 1 901 1091.8)">S</text></g>
<g id="d1-gen1"><rect class="r lab" x="967" y="978" width="95" height="91"/><text class="t" transform="matrix(.8 0 0 1 1014.5 1009)"><tspan x="0">Gen Chem</tspan><tspan x="0" y="15.5">Lab</tspan><tspan x="0" y="33">2,400 ASF</tspan></text></g>
<g id="d1-wu1"><rect class="r pu" x="1067" y="984" width="37" height="38"/><text class="t" transform="matrix(.8 0 0 1 1085.5 1008.3)">WU</text></g>
<g id="d1-wu2"><rect class="r pu" x="1108" y="984" width="39" height="38"/><text class="t" transform="matrix(.8 0 0 1 1127.5 1008.3)">WU</text></g>
<g id="d1-wu3"><rect class="r pu" x="1067" y="1024" width="37" height="39"/><text class="t" transform="matrix(.8 0 0 1 1085.5 1048.8)">WU</text></g>
<g id="d1-wu4"><rect class="r pu" x="1108" y="1024" width="39" height="39"/><text class="t" transform="matrix(.8 0 0 1 1127.5 1048.8)">WU</text></g>
<g id="d1-gen2"><rect class="r lab" x="1151" y="978" width="96" height="91"/><text class="t" transform="matrix(.8 0 0 1 1199 1009)"><tspan x="0">Gen Chem</tspan><tspan x="0" y="15.5">Lab</tspan><tspan x="0" y="33">2,400 ASF</tspan></text></g>
<g id="d1-stock"><rect class="r pu" x="967" y="1082" width="63" height="39"/><text class="t" transform="matrix(.8 0 0 1 998.5 1098)"><tspan x="0">Stock Rm</tspan><tspan x="0" y="17">665 ASF</tspan></text></g>
<g id="d1-wr"><rect class="r pu" x="1174" y="1077" width="41" height="24"/><text class="t" transform="matrix(.8 0 0 1 1194.5 1094.3)">WR</text></g>
<g id="d1-o1"><rect class="r ye" x="1223" y="1077" width="20" height="28"/><text class="t" transform="matrix(.8 0 0 1 1233 1096.3)">O</text></g>
<g id="d1-taoffice"><rect class="r ta" x="1264" y="979" width="104" height="64"/><text class="t" transform="matrix(.8 0 0 1 1316 1007)"><tspan x="0">TA Office</tspan><tspan x="0" y="17">2,000 ASF</tspan></text></g>
<g id="d1-m1"><rect class="r ta" x="1377" y="991" width="19" height="21"/><text class="t" transform="matrix(.8 0 0 1 1386.5 1006.8)">M</text></g>
<g id="d1-m2"><rect class="r ta" x="1377" y="1013" width="19" height="19"/><text class="t" transform="matrix(.8 0 0 1 1386.5 1027.8)">M</text></g>
<g id="d1-m3"><rect class="r ta" x="1401" y="1013" width="19" height="19"/><text class="t" transform="matrix(.8 0 0 1 1410.5 1027.8)">M</text></g>
<g id="d1-dept"><rect class="r ye" x="1264" y="1051" width="38" height="47"/><text class="t" transform="matrix(.8 0 0 1 1283 1079.8)">O</text></g>
<g id="d1-prog"><rect class="r ye" x="1309" y="1070" width="19" height="28"/><text class="t" transform="matrix(.8 0 0 1 1318.5 1089.3)">O</text></g>
<g id="d1-labels">
  <text class="lb" transform="matrix(.8 0 0 1 939 1088)"><tspan x="0">Server</tspan><tspan x="0" y="18">225</tspan><tspan x="0" y="35">ASF</tspan></text>
  <text class="lb" transform="matrix(.8 0 0 1 1071 1097)"><tspan x="0">Write Up (4)</tspan><tspan x="0" y="18">400 ASF</tspan></text>
  <text class="lb" transform="matrix(.8 0 0 1 1135 1097)"><tspan x="0">Work Rm</tspan><tspan x="0" y="18">275 ASF</tspan></text>
  <text class="lb" transform="matrix(.8 0 0 1 1431 985)">TA Mtg (3)</text>
  <text class="lb ls" transform="matrix(.8 0 0 1 1410 1003)">100 ASF</text>
  <text class="lb ls" xml:space="preserve" transform="matrix(.8 0 0 1 1347 1064)">Dept Office   500 ASF</text>
  <text class="lb ls" xml:space="preserve" transform="matrix(.8 0 0 1 1347 1091)">Prog Office  150 ASF</text>
  <text class="lb ls" xml:space="preserve" transform="matrix(.8 0 0 1 1347 1117)">Lab Office  150 ASF</text>
</g>

<!-- Daniels basement -->
<g id="db-class1"><rect class="r br" x="830" y="1169" width="58" height="48"/><text class="t" transform="matrix(.8 0 0 1 859 1188)"><tspan x="0">Class</tspan><tspan x="0" y="18">750 ASF</tspan></text></g>
<g id="db-class2"><rect class="r br" x="901" y="1171" width="46" height="46"/><text class="t" transform="matrix(.8 0 0 1 924 1190)"><tspan x="0">Class</tspan><tspan x="0" y="18">600 ASF</tspan></text></g>
<g id="db-class3"><rect class="r br" x="901" y="1226" width="46" height="47"/><text class="t" transform="matrix(.8 0 0 1 924 1245)"><tspan x="0">Class</tspan><tspan x="0" y="17">600 ASF</tspan></text></g>
<g id="db-o1"><rect class="r ye" x="819" y="1227" width="20" height="29"/><text class="t" transform="matrix(.8 0 0 1 829 1246.8)">O</text></g>
<g id="db-o2"><rect class="r ye" x="843" y="1227" width="19" height="29"/><text class="t" transform="matrix(.8 0 0 1 852.5 1246.8)">O</text></g>
<g id="db-o3"><rect class="r ye" x="866" y="1227" width="20" height="29"/><text class="t" transform="matrix(.8 0 0 1 876 1246.8)">O</text></g>
<g id="db-o4"><rect class="r ye" x="819" y="1264" width="20" height="29"/><text class="t" transform="matrix(.8 0 0 1 829 1283.8)">O</text></g>
<g id="db-o5"><rect class="r ye" x="843" y="1264" width="19" height="29"/><text class="t" transform="matrix(.8 0 0 1 852.5 1283.8)">O</text></g>
<g id="db-gen1"><rect class="r lab" x="977" y="1166" width="96" height="92"/><text class="t" transform="matrix(.8 0 0 1 1025 1198)"><tspan x="0">Gen Chem</tspan><tspan x="0" y="17">Lab</tspan><tspan x="0" y="34">2,400 ASF</tspan></text></g>
<g id="db-wu1"><rect class="r pu" x="1077" y="1173" width="38" height="39"/><text class="t" transform="matrix(.8 0 0 1 1096 1197.8)">WU</text></g>
<g id="db-wu2"><rect class="r pu" x="1119" y="1173" width="39" height="39"/><text class="t" transform="matrix(.8 0 0 1 1138.5 1197.8)">WU</text></g>
<g id="db-wu3"><rect class="r pu" x="1077" y="1213" width="38" height="39"/><text class="t" transform="matrix(.8 0 0 1 1096 1237.8)">WU</text></g>
<g id="db-wu4"><rect class="r pu" x="1119" y="1213" width="39" height="39"/><text class="t" transform="matrix(.8 0 0 1 1138.5 1237.8)">WU</text></g>
<g id="db-gen2"><rect class="r lab" x="1162" y="1166" width="96" height="92"/><text class="t" transform="matrix(.8 0 0 1 1210 1198)"><tspan x="0">Gen Chem</tspan><tspan x="0" y="17">Lab</tspan><tspan x="0" y="34">2,400 ASF</tspan></text></g>
<g id="db-stock"><rect class="r pu" x="977" y="1271" width="63" height="39"/><text class="t" transform="matrix(.8 0 0 1 1008.5 1288)"><tspan x="0">Stock Rm</tspan><tspan x="0" y="17">665 ASF</tspan></text></g>
<g id="db-taoffice"><rect class="r ta" x="1282" y="1170" width="104" height="63"/><text class="t" transform="matrix(.8 0 0 1 1334 1198)"><tspan x="0">TA Office</tspan><tspan x="0" y="17">2,000 ASF</tspan></text></g>
<g id="db-m1"><rect class="r ta" x="1395" y="1181" width="20" height="21"/><text class="t" transform="matrix(.8 0 0 1 1405 1196.8)">M</text></g>
<g id="db-m2"><rect class="r ta" x="1419" y="1181" width="20" height="21"/><text class="t" transform="matrix(.8 0 0 1 1429 1196.8)">M</text></g>
<g id="db-m3"><rect class="r ta" x="1395" y="1203" width="20" height="19"/><text class="t" transform="matrix(.8 0 0 1 1405 1217.8)">M</text></g>
<g id="db-m4"><rect class="r ta" x="1419" y="1203" width="20" height="19"/><text class="t" transform="matrix(.8 0 0 1 1429 1217.8)">M</text></g>
<g id="db-g1"><rect class="r pk" x="1283" y="1240" width="19" height="29"/><text class="t" transform="matrix(.8 0 0 1 1292.5 1259.8)">G</text></g>
<g id="db-g2"><rect class="r pk" x="1283" y="1273" width="19" height="29"/><text class="t" transform="matrix(.8 0 0 1 1292.5 1292.8)">G</text></g>
<g id="db-study"><rect class="r pk" x="1309" y="1239" width="77" height="57"/><text class="t" transform="matrix(.8 0 0 1 1347.5 1262)"><tspan x="0">Study</tspan><tspan x="0" y="18">1,250 ASF</tspan></text></g>
<g id="db-c"><rect class="r pk" x="1256" y="1273" width="20" height="20"/><text class="t" transform="matrix(.8 0 0 1 1266 1288.3)">C</text></g>
<g id="db-labels">
  <text class="lb" transform="matrix(.8 0 0 1 923 1296)"><tspan x="0">Lecture Office (5)</tspan><tspan x="0" y="17">150 ASF</tspan></text>
  <text class="lb" transform="matrix(.8 0 0 1 1094 1287)"><tspan x="0">Write Up (4)</tspan><tspan x="0" y="17">400 ASF</tspan></text>
  <text class="lb" transform="matrix(.8 0 0 1 1220 1285)"><tspan x="0">Copy</tspan><tspan x="0" y="16">100 ASF</tspan></text>
  <text class="lb" transform="matrix(.8 0 0 1 1419 1249)"><tspan x="0">TA Mtg (4)</tspan><tspan x="0" y="17">100 ASF</tspan></text>
  <text class="lb ls" xml:space="preserve" transform="matrix(.8 0 0 1 1311 1316)">Group (2)  150 ASF</text>
</g>

<!-- Mathews first floor -->
<g id="m1-chemed">
  <text class="lb" xml:space="preserve" transform="matrix(.8 0 0 1 1695 994)">Chemical Education  3,470 ASF</text>
  <g id="m1-o1"><rect class="r ye" x="1531" y="1009" width="20" height="29"/><text class="t" transform="matrix(.8 0 0 1 1541 1028.8)">O</text></g>
  <g id="m1-o2"><rect class="r ye" x="1555" y="1009" width="20" height="29"/><text class="t" transform="matrix(.8 0 0 1 1565 1028.8)">O</text></g>
  <g id="m1-o3"><rect class="r ye" x="1580" y="1009" width="20" height="29"/><text class="t" transform="matrix(.8 0 0 1 1590 1028.8)">O</text></g>
  <g id="m1-o4"><rect class="r ye" x="1605" y="1009" width="20" height="29"/><text class="t" transform="matrix(.8 0 0 1 1615 1028.8)">O</text></g>
  <g id="m1-o5"><rect class="r ye" x="1630" y="1009" width="20" height="29"/><text class="t" transform="matrix(.8 0 0 1 1640 1028.8)">O</text></g>
  <g id="m1-o6"><rect class="r ye" x="1655" y="1009" width="20" height="29"/><text class="t" transform="matrix(.8 0 0 1 1665 1028.8)">O</text></g>
  <g id="m1-o7"><rect class="r ye" x="1680" y="1009" width="20" height="29"/><text class="t" transform="matrix(.8 0 0 1 1690 1028.8)">O</text></g>
  <g id="m1-o8"><rect class="r ye" x="1705" y="1009" width="20" height="29"/><text class="t" transform="matrix(.8 0 0 1 1715 1028.8)">O</text></g>
  <g id="m1-o9"><rect class="r ye" x="1730" y="1009" width="20" height="29"/><text class="t" transform="matrix(.8 0 0 1 1740 1028.8)">O</text></g>
  <g id="m1-f1"><rect class="r ye" x="1555" y="1043" width="20" height="29"/><text class="t" transform="matrix(.8 0 0 1 1565 1062.8)">F</text></g>
  <g id="m1-f2"><rect class="r ye" x="1580" y="1043" width="20" height="29"/><text class="t" transform="matrix(.8 0 0 1 1590 1062.8)">F</text></g>
  <g id="m1-f3"><rect class="r ye" x="1623" y="1043" width="25" height="46"/><text class="t" transform="matrix(.8 0 0 1 1635.5 1071.3)">F</text></g>
  <g id="m1-w1"><rect class="r ye" x="1673" y="1043" width="77" height="46"/><text class="t" transform="matrix(.8 0 0 1 1711.5 1071.3)">W</text></g>
  <g id="m1-v"><rect class="r ye" x="1778" y="1043" width="25" height="46"/><text class="t" transform="matrix(.8 0 0 1 1790.5 1071.3)">V</text></g>
  <g id="m1-c"><rect class="r ye" x="1815" y="1043" width="24" height="39"/><text class="t" transform="matrix(.8 0 0 1 1827 1067.8)">C</text></g>
  <g id="m1-w2"><rect class="r ye" x="1851" y="1043" width="25" height="39"/><text class="t" transform="matrix(.8 0 0 1 1863.5 1067.8)">W</text></g>
</g>

<!-- Mathews basement -->
<g id="mb-class1"><rect class="r br" x="1546" y="1166" width="47" height="96"/><text class="t" transform="matrix(.8 0 0 1 1569.5 1206)"><tspan x="0">Class</tspan><tspan x="0" y="18">1,250</tspan><tspan x="0" y="34">ASF</tspan></text></g>
<g id="mb-class2"><rect class="r br" x="1603" y="1166" width="48" height="96"/><text class="t" transform="matrix(.8 0 0 1 1627 1206)"><tspan x="0">Class</tspan><tspan x="0" y="18">1,250</tspan><tspan x="0" y="34">ASF</tspan></text></g>
<g id="mb-class3"><rect class="r br" x="1679" y="1166" width="57" height="47"/><text class="t" transform="matrix(.8 0 0 1 1707.5 1185)"><tspan x="0">Class</tspan><tspan x="0" y="18">750 ASF</tspan></text></g>
<g id="mb-class4"><rect class="r br" x="1745" y="1166" width="58" height="47"/><text class="t" transform="matrix(.8 0 0 1 1774 1185)"><tspan x="0">Class</tspan><tspan x="0" y="18">750 ASF</tspan></text></g>
<g id="mb-class5"><rect class="r br" x="1813" y="1166" width="58" height="47"/><text class="t" transform="matrix(.8 0 0 1 1842 1185)"><tspan x="0">Class</tspan><tspan x="0" y="18">750 ASF</tspan></text></g>
<g id="mb-class6"><rect class="r br" x="1726" y="1223" width="46" height="45"/><text class="t" transform="matrix(.8 0 0 1 1749 1241)"><tspan x="0">Class</tspan><tspan x="0" y="18">600 ASF</tspan></text></g>
<g id="mb-class7"><rect class="r br" x="1780" y="1223" width="46" height="45"/><text class="t" transform="matrix(.8 0 0 1 1803 1241)"><tspan x="0">Class</tspan><tspan x="0" y="18">600 ASF</tspan></text></g>
<g id="mb-o1"><rect class="r ye" x="1529" y="1276" width="20" height="28"/><text class="t" transform="matrix(.8 0 0 1 1539 1295.3)">O</text></g>
<g id="mb-o2"><rect class="r ye" x="1556" y="1276" width="20" height="28"/><text class="t" transform="matrix(.8 0 0 1 1566 1295.3)">O</text></g>
<g id="mb-o3"><rect class="r ye" x="1583" y="1276" width="20" height="28"/><text class="t" transform="matrix(.8 0 0 1 1593 1295.3)">O</text></g>
<g id="mb-o4"><rect class="r ye" x="1612" y="1276" width="20" height="28"/><text class="t" transform="matrix(.8 0 0 1 1622 1295.3)">O</text></g>
<g id="mb-o5"><rect class="r ye" x="1641" y="1276" width="20" height="28"/><text class="t" transform="matrix(.8 0 0 1 1651 1295.3)">O</text></g>
<g id="mb-o6"><rect class="r ye" x="1669" y="1276" width="20" height="28"/><text class="t" transform="matrix(.8 0 0 1 1679 1295.3)">O</text></g>
<g id="mb-labels">
  <text class="lb ls" transform="matrix(.8 0 0 1 1718 1302)">Lecture Office (6) 150 ASF</text>
</g>

<!-- overview text -->
<g id="overview">
  <text class="title" x="1064" y="147" textLength="408" lengthAdjust="spacingAndGlyphs">GRAPHIC PROGRAM (STACKED)</text>
  <text class="ov" x="1064" y="220" textLength="117" lengthAdjust="spacingAndGlyphs">OVERVIEW</text>
  <text class="para" x="1064" y="257" textLength="661" lengthAdjust="spacingAndGlyphs">Through a collaborative series of workshops with the individual user groups,</text>
  <text class="para" x="1064" y="289" textLength="714" lengthAdjust="spacingAndGlyphs">programmatic elements in the initial graphic program were analyzed and vertically</text>
  <text class="para" x="1064" y="321" textLength="758" lengthAdjust="spacingAndGlyphs">stacked. This process allows you to understand the vertical adjacencies of the program</text>
  <text class="para" x="1064" y="353" textLength="750" lengthAdjust="spacingAndGlyphs">elements in addition to the horizontal adjacencies on each floor. The result is a clearer</text>
  <text class="para" x="1064" y="385" textLength="758" lengthAdjust="spacingAndGlyphs">understanding of how the building will function as a whole, and to begin to visualize the</text>
  <text class="para" x="1064" y="417" textLength="751" lengthAdjust="spacingAndGlyphs">volumetric character that will result from the choices made. The large surplus of space</text>
  <text class="para" x="1064" y="449" textLength="762" lengthAdjust="spacingAndGlyphs">shown surrounding the first and second floor program will serve as the public domain, a</text>
  <text class="para" x="1064" y="481" textLength="753" lengthAdjust="spacingAndGlyphs">space to foster interactions and encourage a social environment. The remainder of the</text>
  <text class="para" x="1064" y="513" textLength="761" lengthAdjust="spacingAndGlyphs">existing program elements in the Daniels and Mathews buildings are not represented in</text>
  <text class="para" x="1064" y="545" textLength="630" lengthAdjust="spacingAndGlyphs">this diagram as these areas would not be spatially affected by this study.</text>
</g>
</svg>
